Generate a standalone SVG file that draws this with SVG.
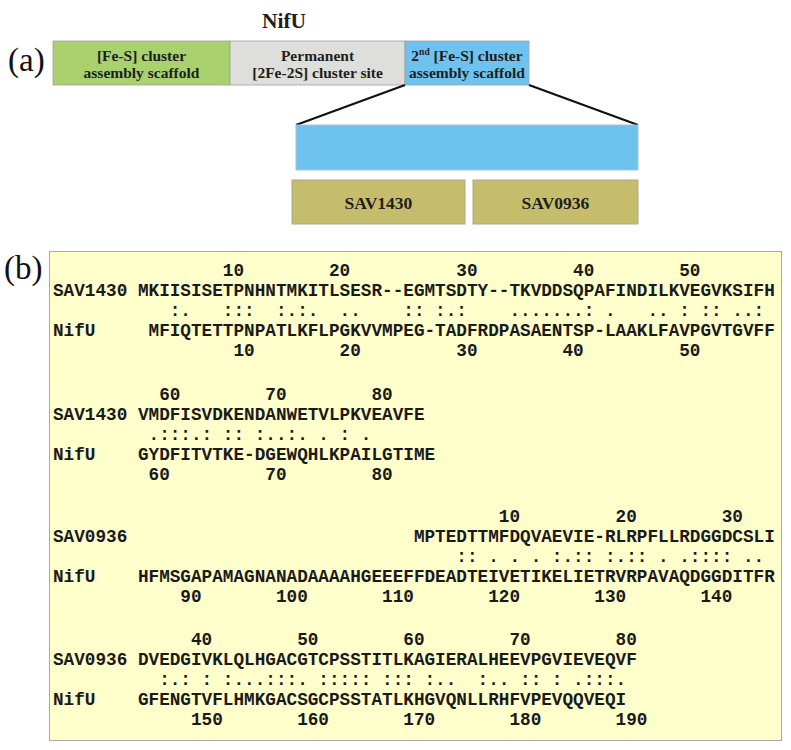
<svg xmlns="http://www.w3.org/2000/svg" width="791" height="750" viewBox="0 0 791 750">
<style>
.lbl{font-family:"Liberation Serif","Times New Roman",serif;font-weight:bold;font-size:15.5px;fill:#1e1e1e;text-anchor:middle}
.big{font-family:"Liberation Serif","Times New Roman",serif;font-size:33px;fill:#111}
.box{font-family:"Liberation Serif","Times New Roman",serif;font-weight:bold;font-size:17.5px;fill:#1e1e1e;text-anchor:middle}
.aln{font-family:"Liberation Mono","Courier New",monospace;font-weight:bold;font-size:17.7px;fill:#1a1a1a;white-space:pre}
.seg{stroke:#a0a0a0;stroke-width:0.8}
.olive{fill:#c5bd6b;stroke:#a8a890;stroke-width:1}
.conn{stroke:#111;stroke-width:2.2;fill:none}
</style>
<rect width="791" height="750" fill="#ffffff"/>
<text class="big" x="8" y="71">(a)</text>
<g id="nifu-title"><text x="284" y="28" style="font-family:'Liberation Serif','Times New Roman',serif;font-weight:bold;font-size:21.5px;fill:#1e1e1e;text-anchor:middle">NifU</text></g>
<g id="seg-scaffold1">
<rect class="seg" x="53" y="41" width="177" height="44" fill="#a9d16e"/>
<text class="lbl" x="141.5" y="61">[Fe-S] cluster</text>
<text class="lbl" x="141.5" y="78">assembly scaffold</text>
</g>
<g id="seg-permanent">
<rect class="seg" x="230" y="41" width="175" height="44" fill="#dededa"/>
<text class="lbl" x="317.5" y="61">Permanent</text>
<text class="lbl" x="317.5" y="78">[2Fe-2S] cluster site</text>
</g>
<g id="seg-scaffold2">
<rect class="seg" x="405" y="41" width="124" height="44" fill="#6ec3ee"/>
<text class="lbl" x="467" y="61">2<tspan font-size="9.5" dy="-6">nd</tspan><tspan dy="6"> [Fe-S] cluster</tspan></text>
<text class="lbl" x="467" y="78">assembly scaffold</text>
</g>
<g id="connectors">
<line class="conn" x1="405" y1="85" x2="296" y2="125"/>
<line class="conn" x1="529" y1="85" x2="638" y2="125"/>
</g>
<g id="expanded">
<rect x="296" y="125" width="342" height="45" fill="#6ec3ee" stroke="#9fc4da" stroke-width="1"/>
</g>
<g id="box-sav1430">
<rect class="olive" x="292" y="180" width="173" height="44"/>
<text class="box" x="378.5" y="209">SAV1430</text>
</g>
<g id="box-sav0936">
<rect class="olive" x="473" y="180" width="165" height="44"/>
<text class="box" x="555.5" y="209">SAV0936</text>
</g>
<text class="big" x="4" y="279">(b)</text>
<g id="alignment">
<rect x="49.5" y="251.5" width="732" height="489" fill="#ffffcc" stroke="#a8a8a8" stroke-width="1"/>
<text class="aln" xml:space="preserve" x="53" y="276">                10        20          30         40        50</text>
<text class="aln" xml:space="preserve" x="53" y="296">SAV1430 MKIISISETPNHNTMKITLSESR--EGMTSDTY--TKVDDSQPAFINDILKVEGVKSIFH</text>
<text class="aln" xml:space="preserve" x="53" y="316">           :.   :::  :.:.  ..    :: :.:    .......: .   .. : :: ..:</text>
<text class="aln" xml:space="preserve" x="53" y="336">NifU     MFIQTETTPNPATLKFLPGKVVMPEG-TADFRDPASAENTSP-LAAKLFAVPGVTGVFF</text>
<text class="aln" xml:space="preserve" x="53" y="356">                 10        20         30        40         50</text>
<text class="aln" xml:space="preserve" x="53" y="400">          60        70        80</text>
<text class="aln" xml:space="preserve" x="53" y="420">SAV1430 VMDFISVDKENDANWETVLPKVEAVFE</text>
<text class="aln" xml:space="preserve" x="53" y="440">         .:::.: :: :..:. . : .</text>
<text class="aln" xml:space="preserve" x="53" y="460">NifU    GYDFITVTKE-DGEWQHLKPAILGTIME</text>
<text class="aln" xml:space="preserve" x="53" y="480">         60         70        80</text>
<text class="aln" xml:space="preserve" x="53" y="522">                                          10         20        30</text>
<text class="aln" xml:space="preserve" x="53" y="542">SAV0936                           MPTEDTTMFDQVAEVIE-RLRPFLLRDGGDCSLI</text>
<text class="aln" xml:space="preserve" x="53" y="562">                                      :: . . . :.:: :.:: . .:::: ..</text>
<text class="aln" xml:space="preserve" x="53" y="582">NifU    HFMSGAPAMAGNANADAAAAHGEEEFFDEADTEIVETIKELIETRVRPAVAQDGGDITFR</text>
<text class="aln" xml:space="preserve" x="53" y="602">            90       100       110       120       130       140</text>
<text class="aln" xml:space="preserve" x="53" y="645">             40        50        60        70        80</text>
<text class="aln" xml:space="preserve" x="53" y="665">SAV0936 DVEDGIVKLQLHGACGTCPSSTITLKAGIERALHEEVPGVIEVEQVF</text>
<text class="aln" xml:space="preserve" x="53" y="685">          :.: : :...:::. ::::: ::: :..  :.. :: : .:::.</text>
<text class="aln" xml:space="preserve" x="53" y="705">NifU    GFENGTVFLHMKGACSGCPSSTATLKHGVQNLLRHFVPEVQQVEQI</text>
<text class="aln" xml:space="preserve" x="53" y="725">             150       160       170       180       190</text>
</g>
</svg>
